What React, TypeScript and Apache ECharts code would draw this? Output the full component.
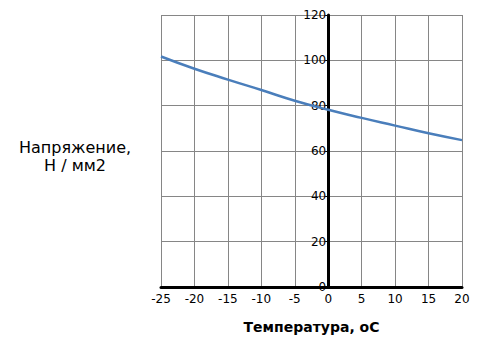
import React, { useEffect, useRef } from "react";
import * as echarts from "echarts";

const temperatures = [-25, -20, -15, -10, -5, 0, 5, 10, 15, 20];
const stress = [101.7, 96.3, 91.5, 86.9, 82.2, 78.2, 74.6, 71.2, 67.8, 64.8];
const xTitle = "Температура, оС";
const yTitle = "Напряжение,\nН / мм2";

const W = 472;
const H = 343;
const GRID_LEFT = 153;
const GRID_RIGHT = 18;
const X_MIN = -25;
const X_MAX = 20;

export default function App() {
  const ref = useRef<HTMLDivElement>(null);
  useEffect(() => {
    if (!ref.current) return;
    const chart = echarts.init(ref.current, undefined, { renderer: "svg" });
    const font = "DejaVu Sans";
    const plotW = W - GRID_LEFT - GRID_RIGHT;
    const zeroOffset = (plotW * (0 - X_MIN)) / (X_MAX - X_MIN);
    chart.setOption({
      animation: false,
      backgroundColor: "#ffffff",
      grid: { left: GRID_LEFT, right: GRID_RIGHT, top: 7, bottom: 64, containLabel: false },
      xAxis: {
        type: "value",
        min: X_MIN,
        max: X_MAX,
        interval: 5,
        name: xTitle,
        nameLocation: "middle",
        nameGap: 33,
        nameTextStyle: { fontFamily: font, fontSize: 14, fontWeight: "bold", color: "#000" },
        axisLine: { show: true, onZero: true, lineStyle: { color: "#000", width: 3 } },
        axisTick: { show: false },
        axisLabel: { fontFamily: font, fontSize: 12, color: "#000", margin: 6 },
        splitLine: { show: true, lineStyle: { color: "#868686", width: 1 } },
      },
      yAxis: {
        type: "value",
        min: 0,
        max: 120,
        interval: 20,
        offset: -zeroOffset,
        axisLine: { show: true, onZero: false, lineStyle: { color: "#000", width: 3 } },
        axisTick: { show: true, length: 3, lineStyle: { color: "#000" } },
        axisLabel: { fontFamily: font, fontSize: 12, color: "#000", margin: 2 },
        splitLine: { show: true, lineStyle: { color: "#868686", width: 1 } },
      },
      graphic: [
        {
          type: "text",
          left: 11,
          top: 130,
          style: {
            text: yTitle,
            fontFamily: font,
            fontSize: 16,
            fill: "#000",
            textAlign: "center",
            lineHeight: 18,
          },
        },
      ],
      series: [
        {
          type: "line",
          data: temperatures.map((t, i) => [t, stress[i]]),
          smooth: true,
          showSymbol: false,
          lineStyle: { color: "#4a7ebb", width: 2.5 },
        },
      ],
    });
    return () => chart.dispose();
  }, []);
  return <div ref={ref} style={{ width: W, height: H }} />;
}
